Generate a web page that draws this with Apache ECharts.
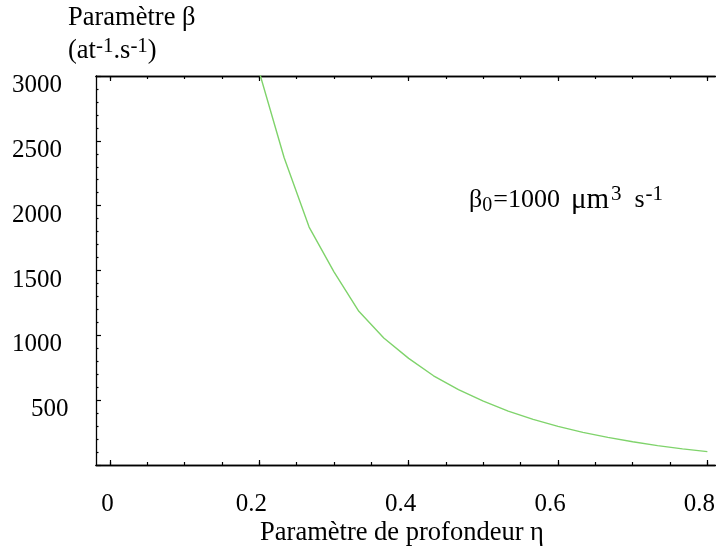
<!DOCTYPE html>
<html>
<head>
<meta charset="utf-8">
<script src="https://cdn.jsdelivr.net/npm/echarts@6/dist/echarts.min.js"></script>
<style>
html,body{margin:0;padding:0;background:#fff;}
#chart{width:718px;height:549px;}
</style>
</head>
<body>
<div id="chart"></div>
<script>
// ---- data ----
const etaValues = [0.2, 0.2333, 0.2667, 0.3, 0.3333, 0.3667, 0.4, 0.4333, 0.4667, 0.5,
                   0.5333, 0.5667, 0.6, 0.6333, 0.6667, 0.7, 0.7333, 0.7667, 0.8];
const betaValues = [3030, 2370, 1835, 1490, 1185, 980, 822, 688, 581, 492,
                    416, 352, 298, 252, 213, 179, 149, 124, 103];
const xMajorTicks = [0, 0.2, 0.4, 0.6, 0.8];
const xMinorTicks = [0, 0.05, 0.1, 0.15, 0.2, 0.25, 0.3, 0.35, 0.4, 0.45, 0.5, 0.55, 0.6, 0.65, 0.7, 0.75, 0.8];
const yTickLabels = [500, 1000, 1500, 2000, 2500, 3000];
const xTitle = 'Paramètre de profondeur η';
const yTitle1 = 'Paramètre β';

// ---- chart ----
const FONT = 'Liberation Serif';
const FS = 25;
const TFS = 26.5;
const XMIN = -0.018667, XMAX = 0.810667;
const chart = echarts.init(document.getElementById('chart'), null, {renderer: 'canvas'});
const lineData = etaValues.map((e, i) => [e, betaValues[i]]);

function xAxisDef(position, ticks, len, withLabels) {
  return {
    type: 'value', position: position, min: XMIN, max: XMAX,
    axisLine: {show: true, onZero: false, lineStyle: {color: '#000', width: 1.3}},
    axisTick: {show: true, inside: true, length: len, customValues: ticks,
               lineStyle: {color: '#000', width: 1.2}},
    axisLabel: withLabels ? {
      show: true, customValues: xMajorTicks, fontFamily: FONT, fontSize: FS, color: '#000',
      margin: 27, padding: [0, 16, 0, 0],
      formatter: v => (v === 0 ? '{z|0}' : String(Math.round(v * 10) / 10)),
      rich: {z: {fontFamily: FONT, fontSize: FS, color: '#000', padding: [0, 0, 0, 11]}}
    } : {show: false},
    splitLine: {show: false}
  };
}

const option = {
  backgroundColor: '#fff',
  animation: false,
  grid: {left: 96, right: 0, top: 76, bottom: 84, containLabel: false},
  xAxis: [
    xAxisDef('bottom', xMinorTicks, 3, false),
    xAxisDef('bottom', xMajorTicks, 5, true),
    xAxisDef('top', xMinorTicks, 3, false),
    xAxisDef('top', xMajorTicks, 5, false)
  ],
  yAxis: {
    type: 'value', min: 0, max: 3000, interval: 500, position: 'left',
    axisLine: {show: true, onZero: false, lineStyle: {color: '#000', width: 1.3}},
    axisTick: {show: true, inside: true, length: 5, lineStyle: {color: '#000', width: 1.2}},
    minorTick: {show: true, splitNumber: 5, length: 2.5, lineStyle: {color: '#000', width: 1.2}},
    splitLine: {show: false},
    axisLabel: {
      show: true, customValues: yTickLabels, fontFamily: FONT, fontSize: FS, color: '#000',
      margin: 34, padding: [19, 0, 0, 0], align: 'right',
      formatter: v => (v === 500 ? '{n|500}' : String(v)),
      rich: {n: {fontFamily: FONT, fontSize: FS, color: '#000', width: 31, align: 'left'}}
    }
  },
  series: [{
    type: 'line', xAxisIndex: 0, data: lineData, showSymbol: false, smooth: false,
    lineStyle: {color: '#7fd36b', width: 1.4}, clip: true
  }],
  graphic: [
    {type: 'text', left: 68, top: 5, style: {text: yTitle1, font: TFS + 'px "' + FONT + '"', fill: '#000'}},
    {type: 'text', left: 68, top: 36, style: {
      text: '(at{s|-1}.s{s|-1})', fill: '#000',
      font: TFS + 'px "' + FONT + '"',
      lineHeight: 30,
      rich: {s: {fontFamily: FONT, fontSize: 21, verticalAlign: 'top', lineHeight: 21, fill: '#000'}}
    }},
    {type: 'text', x: 402, y: 520, style: {text: xTitle, font: TFS + 'px "' + FONT + '"', fill: '#000', align: 'center'}},
    {type: 'text', left: 469, top: 184, style: {
      text: '{g|β}{b|0}{e|=}{n|1000}{u|μm}{s|3}{t|s}{s|-1}', fill: '#000',
      font: FS + 'px "' + FONT + '"', lineHeight: 32,
      rich: {
        g: {fontFamily: FONT, fontSize: 26, lineHeight: 32, verticalAlign: 'middle', fill: '#000'},
        b: {fontFamily: FONT, fontSize: 20, verticalAlign: 'bottom', lineHeight: 20, fill: '#000', padding: [0, 1, 0, 0]},
        e: {fontFamily: FONT, fontSize: 26, lineHeight: 32, verticalAlign: 'middle', fill: '#000'},
        n: {fontFamily: FONT, fontSize: 26, lineHeight: 32, verticalAlign: 'middle', fill: '#000', padding: [0, 11, 0, 0]},
        u: {fontFamily: FONT, fontSize: 29, lineHeight: 32, verticalAlign: 'middle', fill: '#000', padding: [0, 2, 0, 0]},
        s: {fontFamily: FONT, fontSize: 21, verticalAlign: 'top', lineHeight: 21, fill: '#000'},
        t: {fontFamily: FONT, fontSize: 26, lineHeight: 32, verticalAlign: 'middle', fill: '#000', padding: [0, 1, 0, 13]}
      }
    }}
  ]
};
chart.setOption(option);
</script>
</body>
</html>
